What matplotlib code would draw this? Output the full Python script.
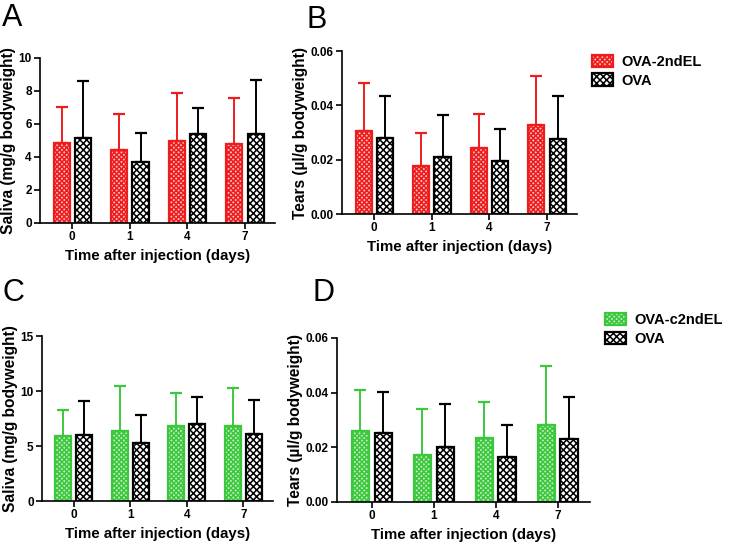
import numpy as np
import matplotlib
matplotlib.use('Agg')
import matplotlib.pyplot as plt
from matplotlib.patches import Patch

plt.rcParams['font.family'] = ['Liberation Sans', 'DejaVu Sans']
plt.rcParams['font.weight'] = 'bold'
plt.rcParams['hatch.linewidth'] = 1.1

days = ['0', '1', '4', '7']

# panel A - saliva, OVA-2ndEL vs OVA
saliva_a_el = [4.83, 4.42, 4.99, 4.79]
saliva_a_el_err = [2.22, 2.18, 2.87, 2.77]
saliva_a_ova = [5.17, 3.68, 5.39, 5.38]
saliva_a_ova_err = [3.43, 1.76, 1.56, 3.29]

# panel B - tears, OVA-2ndEL vs OVA
tears_b_el = [0.0307, 0.0177, 0.0242, 0.0328]
tears_b_el_err = [0.0174, 0.0120, 0.0126, 0.0181]
tears_b_ova = [0.0279, 0.0209, 0.0196, 0.0276]
tears_b_ova_err = [0.0156, 0.0154, 0.0116, 0.0158]

# panel C - saliva, OVA-c2ndEL vs OVA
saliva_c_el = [5.90, 6.35, 6.85, 6.82]
saliva_c_el_err = [2.40, 4.15, 3.00, 3.45]
saliva_c_ova = [6.00, 5.25, 7.00, 6.09]
saliva_c_ova_err = [3.10, 2.55, 2.48, 3.09]

# panel D - tears, OVA-c2ndEL vs OVA
tears_d_el = [0.0260, 0.0171, 0.0233, 0.0282]
tears_d_el_err = [0.0150, 0.0168, 0.0133, 0.0214]
tears_d_ova = [0.0252, 0.0200, 0.0166, 0.0232]
tears_d_ova_err = [0.0150, 0.0158, 0.0117, 0.0153]

red_edge = '#ee1c1c'
red_face = '#f8c0c0'
green_edge = '#3cc83c'
green_face = '#c4ecc4'
el_hatch = 'xxxxxxx'
ova_hatch = 'XXXXX'

fig = plt.figure(figsize=(7.33, 5.46), dpi=100)


def panel(rect, el, el_err, ova, ova_err, edge, face, ylim, yticks, yfmt, ylabel):
    ax = fig.add_axes(rect)
    x = np.arange(len(days))
    w = 0.28
    ax.bar(x - 0.185, el, w, color=face, edgecolor=edge, linewidth=1.6,
           hatch=el_hatch, zorder=2)
    ax.errorbar(x - 0.185, el, yerr=[np.zeros(4), el_err], fmt='none',
                ecolor=edge, elinewidth=1.4, capsize=4, capthick=1.6, zorder=1)
    ax.bar(x + 0.185, ova, w, color='white', edgecolor='black', linewidth=1.6,
           hatch=ova_hatch, zorder=2)
    ax.errorbar(x + 0.185, ova, yerr=[np.zeros(4), ova_err], fmt='none',
                ecolor='black', elinewidth=1.4, capsize=4, capthick=1.6, zorder=1)
    ax.set_xlim(-0.56, 3.52)
    ax.set_ylim(*ylim)
    ax.set_yticks(yticks)
    ax.set_yticklabels([yfmt.format(v) for v in yticks])
    ax.set_xticks(x)
    ax.set_xticklabels(days)
    for s in ['top', 'right']:
        ax.spines[s].set_visible(False)
    for s in ['left', 'bottom']:
        ax.spines[s].set_linewidth(1.2)
    ax.tick_params(axis='both', labelsize=8.5, width=1.2, length=4, pad=2)
    ax.set_ylabel(ylabel, fontsize=11.2, fontweight='bold', labelpad=2)
    ax.set_xlabel('Time after injection (days)', fontsize=10.8, fontweight='bold', labelpad=4)
    return ax


panel([0.0546, 0.5916, 0.3206, 0.3022], saliva_a_el, saliva_a_el_err,
      saliva_a_ova, saliva_a_ova_err, red_edge, red_face,
      (0, 10), [0, 2, 4, 6, 8, 10], '{:g}', 'Saliva (mg/g bodyweight)')
panel([0.4666, 0.608, 0.3206, 0.2985], tears_b_el, tears_b_el_err,
      tears_b_ova, tears_b_ova_err, red_edge, red_face,
      (0, 0.06), [0, 0.02, 0.04, 0.06], '{:.2f}', 'Tears (µl/g bodyweight)')
panel([0.0573, 0.0824, 0.315, 0.3022], saliva_c_el, saliva_c_el_err,
      saliva_c_ova, saliva_c_ova_err, green_edge, green_face,
      (0, 15), [0, 5, 10, 15], '{:g}', 'Saliva (mg/g bodyweight)')
panel([0.4598, 0.0806, 0.345, 0.3004], tears_d_el, tears_d_el_err,
      tears_d_ova, tears_d_ova_err, green_edge, green_face,
      (0, 0.06), [0, 0.02, 0.04, 0.06], '{:.2f}', 'Tears (µl/g bodyweight)')

# legends
h_red = [Patch(facecolor=red_face, edgecolor=red_edge, hatch=el_hatch, linewidth=1.6, label='OVA-2ndEL'),
         Patch(facecolor='white', edgecolor='black', hatch=ova_hatch, linewidth=1.6, label='OVA')]
h_green = [Patch(facecolor=green_face, edgecolor=green_edge, hatch=el_hatch, linewidth=1.6, label='OVA-c2ndEL'),
           Patch(facecolor='white', edgecolor='black', hatch=ova_hatch, linewidth=1.6, label='OVA')]
leg_kw = dict(loc='upper left', frameon=False, prop={'size': 10.5, 'weight': 'bold'},
              handlelength=1.4, handleheight=0.9, handletextpad=0.6, labelspacing=0.3,
              borderaxespad=0)
fig.legend(handles=h_red, bbox_to_anchor=(0.8, 0.91), **leg_kw)
fig.legend(handles=h_green, bbox_to_anchor=(0.818, 0.437), **leg_kw)

# panel letters
for lx, ly, t in [(0.003, 0.995, 'A'), (0.418, 0.99, 'B'), (0.003, 0.49, 'C'), (0.426, 0.49, 'D')]:
    fig.text(lx, ly, t, fontsize=22, fontweight='normal', va='top', ha='left')

fig.savefig('out.png', dpi=100)
